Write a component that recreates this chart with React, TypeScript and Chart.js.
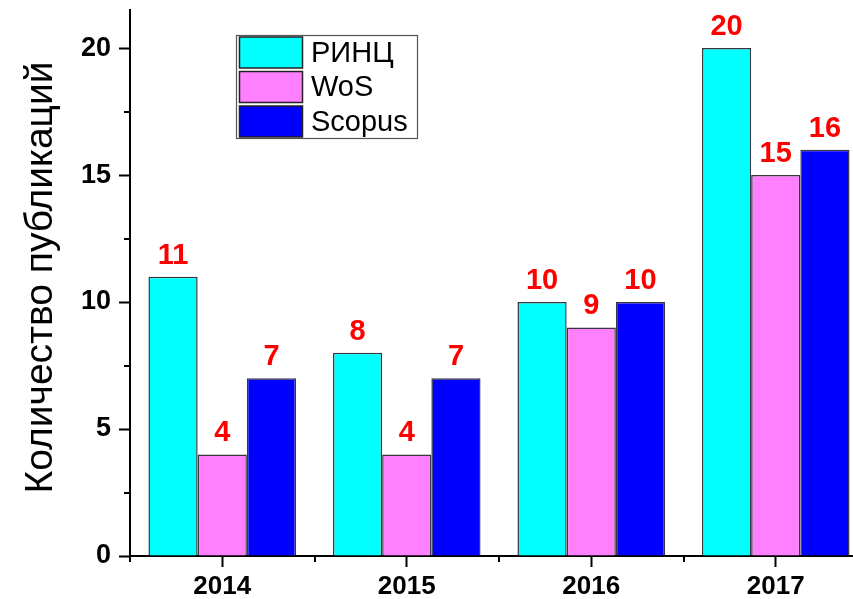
import React, { useEffect, useRef } from "react";
import { Chart, registerables } from "chart.js";

Chart.register(...registerables);

const years = ["2014", "2015", "2016", "2017"];
const rincValues = [11, 8, 10, 20];
const wosValues = [4, 4, 9, 15];
const scopusValues = [7, 7, 10, 16];
const seriesLabels = ["РИНЦ", "WoS", "Scopus"];
const seriesColors = ["#00FFFF", "#FF80FF", "#0000FF"];
const yTitle = "Количество публикаций";
const yMin = 0;
const yMax = 21.5;
const yStep = 5;
const yMinorTicks = [2.5, 7.5, 12.5, 17.5];

const FONT = "'Liberation Sans', Arial, sans-serif";
const CANVAS_W = 880;
const CANVAS_H = 599;

const extrasPlugin = {
  id: "extras",
  afterDatasetsDraw(chart: any) {
    const ctx = chart.ctx;
    ctx.save();
    ctx.fillStyle = "#FF0000";
    ctx.font = `bold 29px ${FONT}`;
    ctx.textAlign = "center";
    ctx.textBaseline = "alphabetic";
    chart.data.datasets.forEach((ds: any, di: number) => {
      const meta = chart.getDatasetMeta(di);
      meta.data.forEach((bar: any, i: number) => {
        ctx.fillText(String(ds.data[i]), bar.x, bar.y - 13);
      });
    });
    ctx.restore();
  },
  afterDraw(chart: any) {
    const ctx = chart.ctx;
    const ca = chart.chartArea;
    const xs = chart.scales.x;
    const ys = chart.scales.y;
    ctx.save();
    ctx.strokeStyle = "#000";
    ctx.lineWidth = 2;
    ctx.beginPath();
    yMinorTicks.forEach((v) => {
      const py = Math.round(ys.getPixelForValue(v));
      ctx.moveTo(ca.left - 6, py);
      ctx.lineTo(ca.left, py);
    });
    const n = chart.data.labels.length;
    const bounds: number[] = [ca.left];
    for (let i = 0; i < n - 1; i++) {
      bounds.push((xs.getPixelForTick(i) + xs.getPixelForTick(i + 1)) / 2);
    }
    bounds.push(ca.right);
    bounds.forEach((bx) => {
      const px = Math.round(bx);
      ctx.moveTo(px, ca.bottom);
      ctx.lineTo(px, ca.bottom + 6);
    });
    ctx.stroke();

    ctx.save();
    ctx.translate(52, 277.5);
    ctx.rotate(-Math.PI / 2);
    ctx.fillStyle = "#000";
    ctx.font = `39px ${FONT}`;
    ctx.textAlign = "center";
    ctx.textBaseline = "alphabetic";
    ctx.fillText(yTitle, 0, 0);
    ctx.restore();

    const lx = 236.5;
    const ly = 35.5;
    const lw = 181;
    const lh = 103;
    ctx.fillStyle = "#fff";
    ctx.fillRect(lx, ly, lw, lh);
    ctx.strokeStyle = "#555";
    ctx.lineWidth = 1.2;
    ctx.strokeRect(lx, ly, lw, lh);
    chart.data.datasets.forEach((ds: any, i: number) => {
      const top = 37 + i * 34.5;
      ctx.fillStyle = ds.backgroundColor;
      ctx.fillRect(239.5, top, 63, 31);
      ctx.strokeStyle = "#222";
      ctx.lineWidth = 1.5;
      ctx.strokeRect(239.5, top, 63, 31);
      ctx.fillStyle = "#000";
      ctx.font = `29px ${FONT}`;
      ctx.textAlign = "left";
      ctx.textBaseline = "alphabetic";
      ctx.fillText(ds.label, 311, top + 24.5);
    });
    ctx.restore();
  },
};

export default function App() {
  const canvasRef = useRef<HTMLCanvasElement | null>(null);

  useEffect(() => {
    document.documentElement.style.overflow = "hidden";
    document.body.style.margin = "0";
    document.body.style.overflow = "hidden";
    const canvas = canvasRef.current;
    if (!canvas) return;
    const values = [rincValues, wosValues, scopusValues];
    const chart = new Chart(canvas, {
      type: "bar",
      data: {
        labels: years,
        datasets: seriesLabels.map((label, i) => ({
          label,
          data: values[i],
          backgroundColor: seriesColors[i],
          borderColor: "rgba(20,20,30,0.85)",
          borderWidth: 1.5,
          categoryPercentage: 0.8,
          barPercentage: 1.0,
        })),
      },
      options: {
        responsive: false,
        animation: false,
        devicePixelRatio: 1,
        layout: { padding: { left: 0, right: CANVAS_W - 868, top: 10, bottom: 0 } },
        plugins: {
          legend: { display: false },
          tooltip: { enabled: false },
          title: { display: false },
        },
        scales: {
          x: {
            type: "category",
            offset: true,
            grid: {
              offset: false,
              drawOnChartArea: false,
              drawTicks: true,
              tickLength: 11,
              tickWidth: 2,
              tickColor: "#000",
              color: "#000",
            },
            border: { display: true, color: "#000", width: 2 },
            ticks: {
              color: "#000",
              font: { family: FONT, size: 26, weight: "bold" },
              padding: 4,
              maxRotation: 0,
            },
            afterFit: (scale: any) => {
              scale.height = CANVAS_H - 556;
              scale.paddingLeft = 0;
              scale.paddingRight = 0;
            },
          },
          y: {
            min: yMin,
            max: yMax,
            grid: {
              drawOnChartArea: false,
              drawTicks: true,
              tickLength: 11,
              tickWidth: 2,
              tickColor: "#000",
              color: "#000",
            },
            border: { display: true, color: "#000", width: 2 },
            ticks: {
              stepSize: yStep,
              includeBounds: false,
              color: "#000",
              font: { family: FONT, size: 27, weight: "bold" },
              padding: 8,
            },
            afterFit: (scale: any) => {
              scale.width = 130;
              scale.paddingTop = 0;
              scale.paddingBottom = 0;
            },
          },
        },
      },
      plugins: [extrasPlugin],
    } as any);
    return () => {
      chart.destroy();
    };
  }, []);

  return (
    <div style={{ position: "fixed", left: 0, top: 0, width: CANVAS_W, height: CANVAS_H, background: "#fff" }}>
      <canvas ref={canvasRef} width={CANVAS_W} height={CANVAS_H} style={{ display: "block" }} />
    </div>
  );
}
